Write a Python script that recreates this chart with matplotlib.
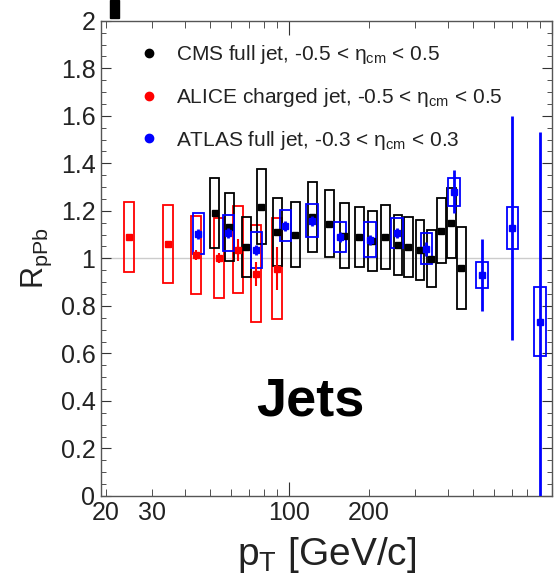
import matplotlib
matplotlib.use("Agg")
import matplotlib.pyplot as plt
from matplotlib.patches import Rectangle
from matplotlib.lines import Line2D
from matplotlib.ticker import FixedLocator, FuncFormatter, MultipleLocator

plt.rcParams['font.family'] = ['Liberation Sans', 'DejaVu Sans']
plt.rcParams['mathtext.fontset'] = 'custom'
plt.rcParams['mathtext.rm'] = 'Liberation Sans'
plt.rcParams['mathtext.it'] = 'Liberation Sans:italic'
plt.rcParams['mathtext.bf'] = 'Liberation Sans:bold'

# CMS full jet
cms_pt = [51.9, 59.1, 68.6, 78.3, 90, 105.4, 122.3, 141.9, 161.9, 184.7,
          206.9, 231.8, 259, 283, 314, 346, 378, 413, 451]
cms_r = [1.192, 1.133, 1.048, 1.217, 1.112, 1.099, 1.175, 1.145, 1.095, 1.09,
         1.074, 1.09, 1.057, 1.048, 1.036, 0.998, 1.116, 1.149, 0.96]
cms_sys = [0.148, 0.144, 0.127, 0.158, 0.143, 0.137, 0.148, 0.141, 0.137, 0.127,
           0.127, 0.133, 0.127, 0.125, 0.127, 0.12, 0.137, 0.146, 0.173]

# ALICE charged jet
alice_pt = [24.6, 34.4, 44.3, 54.2, 64, 74.9, 90]
alice_r = [1.09, 1.061, 1.015, 1.002, 1.036, 0.935, 0.956]
alice_stat = [0.01, 0.01, 0.02, 0.02, 0.045, 0.05, 0.09]
alice_sys = [0.148, 0.163, 0.165, 0.17, 0.183, 0.204, 0.212]

# ATLAS full jet
atlas_pt = [45.1, 58.6, 74.9, 96.5, 122, 156, 203, 257, 332, 424, 541, 705, 900]
atlas_r = [1.103, 1.107, 1.036, 1.137, 1.158, 1.09, 1.078, 1.107, 1.04, 1.28,
           0.93, 1.128, 0.733]
atlas_stat = [0.02, 0.02, 0.02, 0.02, 0.02, 0.02, 0.02, 0.02, 0.03, 0.09,
              0.15, 0.47, 0.8]
atlas_sys = [0.086, 0.074, 0.076, 0.065, 0.07, 0.064, 0.074, 0.063, 0.065,
             0.059, 0.055, 0.09, 0.145]

labels = ['CMS full jet, -0.5 < $\\mathrm{\\eta_{cm}}$ < 0.5',
          'ALICE charged jet, -0.5 < $\\mathrm{\\eta_{cm}}$ < 0.5',
          'ATLAS full jet, -0.3 < $\\mathrm{\\eta_{cm}}$ < 0.3']


def sys_boxes(ax, pt, r, sys, color, hw):
    for x, y, s in zip(pt, r, sys):
        x0 = x * 10 ** (-hw)
        w = x * (10 ** hw - 10 ** (-hw))
        ax.add_patch(Rectangle((x0, y - s), w, 2 * s, fill=False,
                               edgecolor=color, lw=1.3, zorder=3))


fig = plt.figure(figsize=(5.55, 5.78), dpi=100)
ax = fig.add_axes([0.182, 0.142, 0.813, 0.822])
ax.set_xscale('log')
ax.set_xlim(19.2, 1000)
ax.set_ylim(0, 2)

ax.axhline(1, color='#cccccc', lw=1, zorder=1)

sys_boxes(ax, alice_pt, alice_r, alice_sys, 'red', 0.019)
sys_boxes(ax, cms_pt, cms_r, cms_sys, 'black', 0.017)
sys_boxes(ax, atlas_pt, atlas_r, atlas_sys, 'blue', 0.022)

ax.errorbar(alice_pt, alice_r, yerr=alice_stat, fmt='s', color='red',
            ms=4.5, elinewidth=1.5, capsize=0, zorder=4)
ax.errorbar(cms_pt, cms_r, fmt='s', color='black', ms=4.5, zorder=4)
ax.errorbar(atlas_pt, atlas_r, yerr=atlas_stat, fmt='s', color='blue',
            ms=4.5, elinewidth=2, capsize=0, zorder=5)

# ticks, ROOT-like
ax.xaxis.set_major_locator(FixedLocator([100, 1000]))
ax.xaxis.set_minor_locator(FixedLocator([20, 30, 40, 50, 60, 70, 80, 90,
                                         200, 300, 400, 500, 600, 700, 800, 900]))
ax.xaxis.set_major_formatter(FuncFormatter(lambda v, p: '100' if v == 100 else ''))
ax.xaxis.set_minor_formatter(FuncFormatter(
    lambda v, p: '%d' % v if int(round(v)) in (20, 30, 200) else ''))
ax.yaxis.set_major_locator(MultipleLocator(0.2))
ax.yaxis.set_minor_locator(MultipleLocator(0.05))
ax.yaxis.set_major_formatter(FuncFormatter(lambda v, p: '%g' % round(v, 1)))

ax.tick_params(which='both', direction='in', top=True, right=True,
               labelsize=18, colors='#333333', labelcolor='#222222')
ax.tick_params(axis='x', which='major', length=10, pad=4)
ax.tick_params(axis='x', which='minor', length=5, pad=4)
ax.tick_params(axis='y', which='major', length=7, pad=4)
ax.tick_params(axis='y', which='minor', length=3.5)
for sp in ax.spines.values():
    sp.set_color('#555555')
    sp.set_linewidth(1)

ax.set_xlabel('$\\mathrm{p_{T}}$ [GeV/c]', fontsize=28, color='#222222')
ax.xaxis.set_label_coords(0.5, -0.083)
ax.set_ylabel('$\\mathrm{R_{pPb}}$', fontsize=22, color='#222222')
ax.yaxis.set_label_coords(-0.105, 0.5)

handles = [Line2D([], [], ls='none', marker='o', color=c, ms=6)
           for c in ['black', 'red', 'blue']]
ax.legend(handles, labels, loc='upper left', bbox_to_anchor=(0.065, 0.975),
          frameon=False, fontsize=15, handlelength=0.8, handletextpad=0.9,
          labelspacing=0.95, borderpad=0, labelcolor='#222222')

ax.text(120, 0.34, 'Jets', fontsize=39, fontweight='bold', ha='center',
        va='baseline', zorder=6)

# fragment of a cut-off title at the top edge
fig.patches.append(Rectangle((110 / 555, 560 / 578), 9 / 555, 18 / 578,
                             transform=fig.transFigure, color='black'))

fig.savefig('out.png', dpi=100)
